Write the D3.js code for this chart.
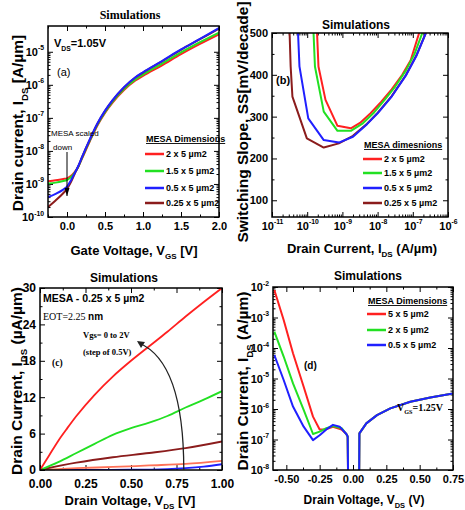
<!DOCTYPE html>
<html><head><meta charset="utf-8">
<script src="https://cdn.jsdelivr.net/npm/d3@7"></script>
<style>body{margin:0;background:#fff}</style>
</head><body><svg id="c" width="465" height="510"></svg>
<script>
// ---------- DATA ----------
// (a) Id-Vgs, log10(Ids [A/um]) vs Vgs
const aNames = ["2 x 5 µm2", "1.5 x 5 µm2", "0.5 x 5 µm2", "0.25 x 5 µm2"];
const aVgs = [-0.25,-0.15,-0.05,0,0.05,0.1,0.15,0.2,0.3,0.4,0.5,0.6,0.75,0.9,1.0,1.25,1.5,1.75,2.0];
const aRedLog   = [-8.92,-8.89,-8.85,-8.83,-8.76,-8.64,-8.47,-8.22,-7.71,-7.23,-6.85,-6.54,-6.16,-5.87,-5.73,-5.41,-5.07,-4.76,-4.47];
const aGreenLog = [-8.99,-8.96,-8.91,-8.88,-8.80,-8.66,-8.47,-8.20,-7.69,-7.21,-6.83,-6.51,-6.13,-5.84,-5.69,-5.36,-5.02,-4.71,-4.42];
const aBlueLog  = [-9.40,-9.30,-9.17,-9.08,-8.90,-8.68,-8.45,-8.17,-7.65,-7.17,-6.78,-6.46,-6.07,-5.77,-5.62,-5.28,-4.93,-4.61,-4.28];
const aBrownLog = [-9.70,-9.50,-9.28,-9.15,-8.95,-8.70,-8.46,-8.18,-7.66,-7.18,-6.79,-6.47,-6.08,-5.78,-5.63,-5.29,-4.94,-4.62,-4.30];
const aXTicks = [0, 0.5, 1.0, 1.5, 2.0];
const aYTickExp = [-10,-9,-8,-7,-6,-5];

// (b) SS vs Ids
const bNames = ["2 x 5 µm2", "1.5 x 5 µm2", "0.5 x 5 µm2", "0.25 x 5 µm2"];
const bRedLogI   = [-9.72,-9.68,-9.48,-9.14,-8.76,-8.50,-8.20,-7.90,-7.60,-7.30,-7.06,-6.82];
const bRedSS     = [500,420,340,278,272,285,308,335,365,400,435,500];
const bGreenLogI = [-9.82,-9.78,-9.53,-9.14,-8.76,-8.42,-8.10,-7.80,-7.50,-7.20,-6.95,-6.73];
const bGreenSS   = [500,420,312,266,266,284,310,340,372,410,450,500];
const bBlueLogI  = [-10.26,-10.22,-9.97,-9.53,-9.10,-8.70,-8.30,-8.00,-7.60,-7.20,-6.90,-6.63];
const bBlueSS    = [500,420,296,244,238,252,282,308,348,398,445,500];
const bBrownLogI = [-10.50,-10.47,-10.42,-10.01,-9.53,-9.10,-8.70,-8.30,-8.00,-7.60,-7.20,-6.90,-6.63];
const bBrownSS   = [500,420,348,248,226,236,254,283,309,349,399,446,500];
const bXTickExp = [-11,-10,-9,-8,-7,-6];
const bYTicks = [100,200,300,400,500];

// (c) Id-Vds (uA/um), Vgs = 0 .. 2 V
const cRedV   = [0,0.05,0.1,0.15,0.2,0.3,0.4,0.5,0.6,0.7,0.8,0.9,1.0];
const cRedI   = [0,2.4,4.8,6.9,8.9,12.4,15.4,18.0,20.4,22.8,25.3,27.7,30.0];
const cGreenV = [0,0.1,0.2,0.3,0.4,0.5,0.6,0.7,0.8,0.9,1.0];
const cGreenI = [0,1.3,2.8,4.3,5.8,6.9,7.8,8.9,10.3,11.6,13.0];
const cBrownV = [0,0.2,0.4,0.6,0.8,1.0];
const cBrownI = [0,1.2,2.1,2.8,3.6,4.7];
const cLightV = [0,0.2,0.4,0.6,0.8,1.0];
const cLightI = [0,0.3,0.5,0.75,1.0,1.5];
const cBlueV  = [0,0.5,0.7,0.8,0.9,1.0];
const cBlueI  = [0,0.05,0.15,0.3,0.55,0.95];
const cXTicks = [0,0.25,0.5,0.75,1.0];
const cYTicks = [0,6,12,18,24,30];

// (d) log10(|Ids|) vs Vds
const dNames = ["5 x 5 µm2", "2 x 5 µm2", "0.5 x 5 µm2"];
const dRedV    = [-0.59,-0.52,-0.45,-0.37,-0.30,-0.25,-0.21,-0.15,-0.085,-0.05,-0.04,-0.035,0.045,0.048,0.10,0.18,0.28,0.43,0.58,0.75];
const dRedLog  = [-2.1,-3.08,-4.17,-5.27,-6.25,-6.67,-6.67,-6.58,-6.67,-6.82,-6.9,-9,-9,-6.8,-6.47,-6.2,-5.98,-5.76,-5.62,-5.49];
const dGreenV  = [-0.59,-0.52,-0.45,-0.37,-0.30,-0.25,-0.20,-0.15,-0.085,-0.05,-0.04,-0.035,0.045,0.048,0.10,0.18,0.28,0.43,0.58,0.75];
const dGreenLog= [-3.46,-4.28,-5.16,-6.03,-6.82,-6.74,-6.63,-6.56,-6.63,-6.82,-6.9,-9,-9,-6.8,-6.47,-6.2,-5.98,-5.76,-5.62,-5.49];
const dBlueV   = [-0.59,-0.52,-0.45,-0.37,-0.30,-0.25,-0.20,-0.15,-0.10,-0.05,-0.04,-0.035,0.045,0.048,0.10,0.18,0.28,0.43,0.58,0.75];
const dBlueLog = [-4.23,-5.05,-5.92,-6.58,-7.02,-6.86,-6.67,-6.52,-6.58,-6.82,-6.9,-9,-9,-6.8,-6.47,-6.2,-5.98,-5.76,-5.62,-5.49];
const dXTicks = [-0.5,-0.25,0,0.25,0.5,0.75];
const dYTickExp = [-8,-7,-6,-5,-4,-3,-2];

// ---------- STYLE ----------
const SANS = '"Liberation Sans", Arial, sans-serif';
const SERIF = '"Liberation Serif", "Times New Roman", serif';
const RED = "#ff2020", GREEN = "#22e022", BLUE = "#2020ff", BROWN = "#8b1c1c", LIGHT = "#ff7258";

const svg = d3.select("#c");
const defs = svg.append("defs");

function rich(parent, parts, x, y, size, opt = {}) {
  const t = parent.append("text").attr("x", x).attr("y", y)
    .attr("font-size", size).attr("font-family", opt.family || SANS)
    .attr("font-weight", opt.weight || "bold").attr("fill", "#000");
  if (opt.anchor) t.attr("text-anchor", opt.anchor);
  if (opt.transform) t.attr("transform", opt.transform);
  if (opt.underline) t.attr("text-decoration", "underline");
  let shift = 0;
  parts.forEach(p => {
    const s = t.append("tspan").text(p.t);
    const target = p.sub ? size * 0.32 : p.sup ? -size * 0.45 : 0;
    if (target !== shift) { s.attr("dy", target - shift); shift = target; }
    if (p.sub || p.sup) s.attr("font-size", size * 0.62);
  });
  return t;
}

function supLabels(sel, size) {
  sel.selectAll(".tick text").each(function(d) {
    const e = Math.round(Math.log10(d));
    const t = d3.select(this).text("10");
    t.append("tspan").attr("dy", -size * 0.5).attr("font-size", size * 0.62).text(e);
  });
}

function minorLog(lo, hi) {
  const out = [];
  for (let e = lo; e < hi; e++) for (let m = 2; m <= 9; m++) out.push(m * Math.pow(10, e));
  return out;
}

function panel(o) {
  const g = svg.append("g");
  const [x0, x1] = o.x.range();
  const [y0, y1] = o.y.range(); // y0 bottom, y1 top
  const cid = "clip" + o.id;
  defs.append("clipPath").attr("id", cid).append("rect")
    .attr("x", x0).attr("y", y1).attr("width", x1 - x0).attr("height", y0 - y1);
  const style = s => s.attr("font-size", o.tick).attr("font-family", SANS).attr("font-weight", "bold")
    .call(s => s.select(".domain").remove());
  // major
  const gb = g.append("g").attr("transform", `translate(0,${y0})`)
    .call(d3.axisBottom(o.x).tickValues(o.xt).tickFormat(o.xf || null).tickSizeInner(-5).tickSizeOuter(0).tickPadding(o.xpad || 5)).call(style);
  g.append("g").attr("transform", `translate(0,${y1})`)
    .call(d3.axisTop(o.x).tickValues(o.xt).tickFormat("").tickSizeInner(-5).tickSizeOuter(0)).call(style);
  const gl = g.append("g").attr("transform", `translate(${x0},0)`)
    .call(d3.axisLeft(o.y).tickValues(o.yt).tickFormat(o.yf || null).tickSizeInner(-5).tickSizeOuter(0).tickPadding(4)).call(style);
  g.append("g").attr("transform", `translate(${x1},0)`)
    .call(d3.axisRight(o.y).tickValues(o.yt).tickFormat("").tickSizeInner(-5).tickSizeOuter(0)).call(style);
  if (o.xlog) supLabels(gb, o.tick);
  if (o.ylog) supLabels(gl, o.tick);
  // minor
  if (o.xm) {
    g.append("g").attr("transform", `translate(0,${y0})`)
      .call(d3.axisBottom(o.x).tickValues(o.xm).tickFormat("").tickSizeInner(-2.5).tickSizeOuter(0)).call(style);
    g.append("g").attr("transform", `translate(0,${y1})`)
      .call(d3.axisTop(o.x).tickValues(o.xm).tickFormat("").tickSizeInner(-2.5).tickSizeOuter(0)).call(style);
  }
  if (o.ym) {
    g.append("g").attr("transform", `translate(${x0},0)`)
      .call(d3.axisLeft(o.y).tickValues(o.ym).tickFormat("").tickSizeInner(-2.5).tickSizeOuter(0)).call(style);
    g.append("g").attr("transform", `translate(${x1},0)`)
      .call(d3.axisRight(o.y).tickValues(o.ym).tickFormat("").tickSizeInner(-2.5).tickSizeOuter(0)).call(style);
  }
  // series
  const cg = g.append("g").attr("clip-path", `url(#${cid})`);
  const line = d3.line().x(d => o.x(d[0])).y(d => o.y(d[1])).curve(o.curve || d3.curveLinear);
  o.series.forEach(s => {
    const pts = s.xs.map((v, i) => [v, s.ys[i]]);
    cg.append("path").attr("d", line(pts)).attr("fill", "none")
      .attr("stroke", s.color).attr("stroke-width", s.w || 2).attr("stroke-linejoin", "round");
  });
  // frame
  g.append("rect").attr("x", x0).attr("y", y1).attr("width", x1 - x0).attr("height", y0 - y1)
    .attr("fill", "none").attr("stroke", "#000").attr("stroke-width", 1.5);
  return g;
}

function legend(g, title, names, colors, x, yTitle, ys, size) {
  rich(g, [{t: title}], x + 1, yTitle, size, {underline: true});
  names.forEach((n, i) => {
    g.append("line").attr("x1", x).attr("x2", x + 19).attr("y1", ys[i]).attr("y2", ys[i])
      .attr("stroke", colors[i]).attr("stroke-width", 2.5);
    rich(g, [{t: n}], x + 21, ys[i] + 3.2, size);
  });
}

const pow = v => Math.pow(10, v);

// ---------- PANEL (a) ----------
{
  const x = d3.scaleLinear().domain([-0.25, 2.0]).range([48, 219]);
  const y = d3.scaleLog().domain([1e-10, pow(-4.22)]).range([217, 26]);
  const g = panel({
    id: "a", x, y, tick: 11,
    xt: aXTicks, xf: d3.format(".1f"), xm: [-0.25, 0.25, 0.75, 1.25, 1.75],
    yt: aYTickExp.map(pow), ylog: true, ym: minorLog(-10, -5),
    curve: d3.curveMonotoneX,
    series: [
      {xs: aVgs, ys: aRedLog.map(pow), color: RED},
      {xs: aVgs, ys: aGreenLog.map(pow), color: GREEN},
      {xs: aVgs, ys: aBrownLog.map(pow), color: BROWN},
      {xs: aVgs, ys: aBlueLog.map(pow), color: BLUE}
    ]
  });
  rich(g, [{t: "Simulations"}], 130, 19, 12, {anchor: "middle", family: SERIF});
  rich(g, [{t: "Drain current, I"}, {t: "DS", sub: true}, {t: " [A/µm]"}], 0, 0, 15.5,
    {anchor: "middle", transform: "translate(23,123) rotate(-90)"});
  rich(g, [{t: "Gate Voltage, V"}, {t: "GS", sub: true}, {t: " [V]"}], 134, 255, 13, {anchor: "middle"});
  rich(g, [{t: "V"}, {t: "DS", sub: true}, {t: "=1.05V"}], 54, 47, 11);
  rich(g, [{t: "(a)"}], 57, 76, 11, {weight: "normal"});
  rich(g, [{t: "MESA scaled"}], 51, 136, 8, {weight: "normal"});
  rich(g, [{t: "down"}], 53, 150, 8, {weight: "normal"});
  g.append("line").attr("x1", x(0)).attr("x2", x(0)).attr("y1", 152).attr("y2", 196)
    .attr("stroke", "#000").attr("stroke-width", 1);
  g.append("path").attr("d", `M${x(0) - 2.5},188 L${x(0) + 2.5},188 L${x(0)},196 Z`).attr("fill", "#000");
  legend(g, "MESA Dimensions", aNames, [RED, GREEN, BLUE, BROWN], 145, 142, [154, 171, 188, 203], 9);
}

// ---------- PANEL (b) ----------
{
  const x = d3.scaleLog().domain([1e-11, 1e-6]).range([272, 448]);
  const y = d3.scaleLinear().domain([60, 500]).range([217, 33]);
  const g = panel({
    id: "b", x, y, tick: 11,
    xt: bXTickExp.map(pow), xlog: true, xm: minorLog(-11, -6),
    yt: bYTicks, yf: d3.format("d"), ym: [150, 250, 350, 450],
    series: [
      {xs: bRedLogI.map(pow), ys: bRedSS, color: RED},
      {xs: bGreenLogI.map(pow), ys: bGreenSS, color: GREEN},
      {xs: bBrownLogI.map(pow), ys: bBrownSS, color: BROWN},
      {xs: bBlueLogI.map(pow), ys: bBlueSS, color: BLUE}
    ]
  });
  rich(g, [{t: "Simulations"}], 356, 29, 12, {anchor: "middle"});
  rich(g, [{t: "Switching Slope, SS[mV/decade]"}], 0, 0, 15.5,
    {anchor: "middle", transform: "translate(248,122) rotate(-90)"});
  rich(g, [{t: "Drain Current, I"}, {t: "DS", sub: true}, {t: " (A/µm)"}], 362, 253, 13, {anchor: "middle"});
  rich(g, [{t: "(b)"}], 276, 84, 11);
  legend(g, "MESA dimesnions", bNames, [RED, GREEN, BLUE, BROWN], 363, 148, [159, 173, 188, 203], 9);
}

// ---------- PANEL (c) ----------
{
  const x = d3.scaleLinear().domain([0, 1]).range([40, 222]);
  const y = d3.scaleLinear().domain([0, 30]).range([470, 288]);
  const g = panel({
    id: "c", x, y, tick: 12, xpad: 9,
    xt: cXTicks, xf: d3.format(".2f"), xm: [0.125, 0.375, 0.625, 0.875],
    yt: cYTicks, yf: d3.format("d"), ym: [3, 9, 15, 21, 27],
    curve: d3.curveMonotoneX,
    series: [
      {xs: cBlueV, ys: cBlueI, color: BLUE, w: 1.8},
      {xs: cLightV, ys: cLightI, color: LIGHT, w: 1.8},
      {xs: cBrownV, ys: cBrownI, color: BROWN, w: 1.8},
      {xs: cGreenV, ys: cGreenI, color: GREEN, w: 1.8},
      {xs: cRedV, ys: cRedI, color: RED, w: 1.8}
    ]
  });
  rich(g, [{t: "Simulations"}], 124, 282, 12, {anchor: "middle"});
  rich(g, [{t: "Drain Current, I"}, {t: "DS", sub: true}, {t: " (µA/µm)"}], 0, 0, 15.5,
    {anchor: "middle", transform: "translate(22,381) rotate(-90)"});
  rich(g, [{t: "Drain Voltage, V"}, {t: "DS", sub: true}, {t: " [V]"}], 130, 505, 13, {anchor: "middle"});
  rich(g, [{t: "MESA - 0.25 x 5 µm2"}], 43, 302, 10.5);
  const eot = rich(g, [{t: "EOT=2.25 "}], 43, 320, 10, {family: SERIF, weight: "normal"});
  eot.append("tspan").attr("font-family", SANS).attr("font-weight", "bold").text("nm");
  rich(g, [{t: "Vgs= 0 to 2V"}], 83, 338, 8.5, {family: SERIF});
  rich(g, [{t: "(step of 0.5V)"}], 83, 355, 8.5, {family: SERIF});
  rich(g, [{t: "(c)"}], 52, 366, 9.5, {family: SERIF});
  const bx = x(0.79);
  g.append("path").attr("d", `M${bx},470 Q${bx},362 139,343`).attr("fill", "none")
    .attr("stroke", "#222").attr("stroke-width", 1.3);
  g.append("path").attr("d", "M137,341 L145,342 L141,348 Z").attr("fill", "#222");
}

// ---------- PANEL (d) ----------
{
  const x = d3.scaleLinear().domain([-0.6, 0.75]).range([273, 453]);
  const y = d3.scaleLog().domain([1e-8, 1e-2]).range([470, 287]);
  const g = panel({
    id: "d", x, y, tick: 11,
    xt: dXTicks, xf: v => v.toFixed(2), xm: [-0.375, -0.125, 0.125, 0.375, 0.625],
    yt: dYTickExp.map(pow), ylog: true, ym: minorLog(-8, -2),
    series: [
      {xs: dRedV, ys: dRedLog.map(pow), color: RED},
      {xs: dGreenV, ys: dGreenLog.map(pow), color: GREEN},
      {xs: dBlueV, ys: dBlueLog.map(pow), color: BLUE}
    ]
  });
  rich(g, [{t: "Simulations"}], 368, 280, 12, {anchor: "middle"});
  rich(g, [{t: "Drain Current, I"}, {t: "DS", sub: true}, {t: " (A/µm)"}], 0, 0, 15.5,
    {anchor: "middle", transform: "translate(248,381) rotate(-90)"});
  rich(g, [{t: "Drain Voltage, V"}, {t: "DS", sub: true}, {t: " (V)"}], 364, 504, 12, {anchor: "middle"});
  rich(g, [{t: "(d)"}], 304, 369, 10);
  rich(g, [{t: "V"}, {t: "GS", sub: true}, {t: "=1.25V"}], 397, 411, 10, {family: SERIF});
  legend(g, "MESA Dimensions", dNames, [RED, GREEN, BLUE], 367, 304, [314, 330, 345], 9);
}
</script></body></html>
